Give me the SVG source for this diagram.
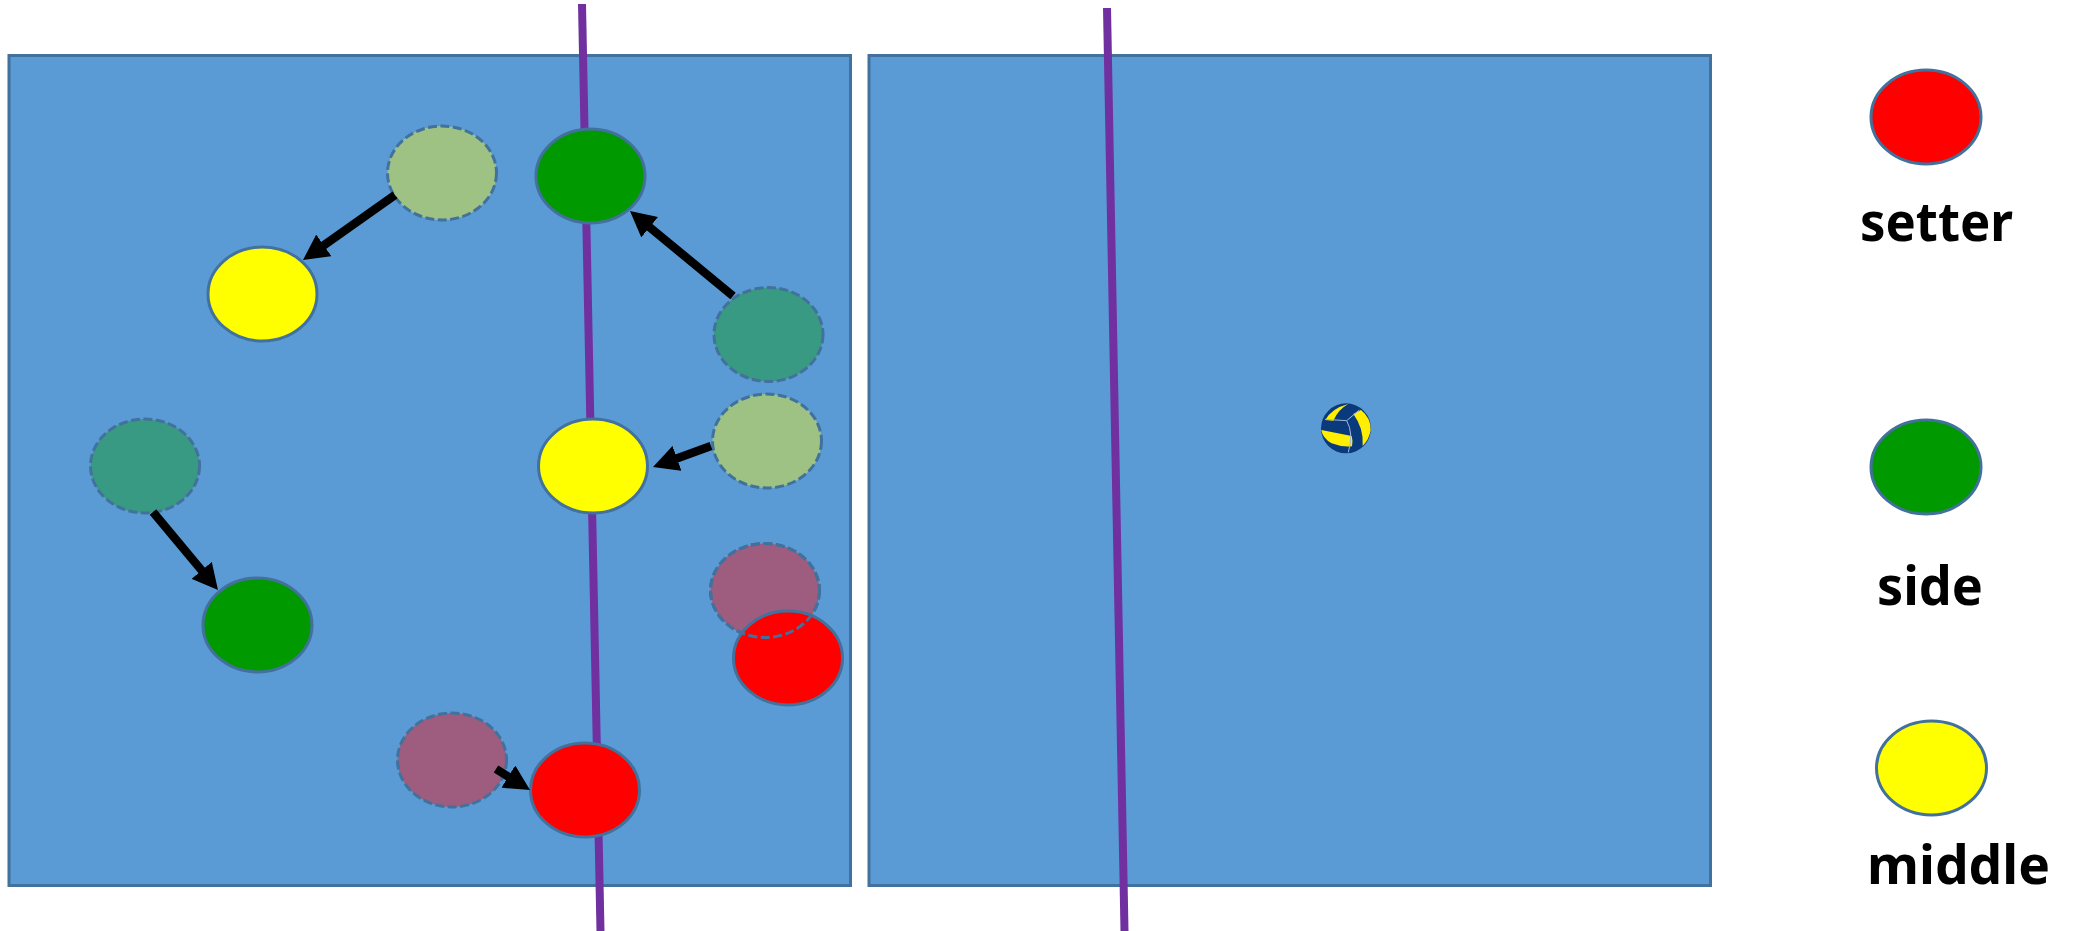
<svg xmlns="http://www.w3.org/2000/svg" width="2080" height="931" viewBox="0 0 2080 931">
<style>
.court{fill:#5b9bd5;stroke:#41719c;stroke-width:3}
.net{stroke:#7030a0;stroke-width:8;fill:none}
.p{stroke:#41719c;stroke-width:3}
.g{stroke:#41719c;stroke-width:3;stroke-dasharray:9 3.5}
.red{fill:#ff0000}.green{fill:#009900}.yellow{fill:#ffff00}
.gl{fill:#9dc284}.gt{fill:#399a84}.gm{fill:#9e5d7e}
.arrow{stroke:#000;stroke-width:8.5;fill:none;marker-end:url(#head)}
.label{font-family:"Noto Sans","Open Sans","Liberation Sans",sans-serif;font-weight:700;font-size:54px;fill:#000}
</style>
<defs>
<marker id="head" viewBox="0 0 3 3.1" refX="0.65" refY="1.55" markerWidth="3" markerHeight="3.1" orient="auto" markerUnits="strokeWidth"><path d="M0 0L3 1.55L0 3.1Z" fill="#000"/></marker>
</defs>
<rect width="2080" height="931" fill="#fff"/>
<g id="court-left"><rect class="court" x="9" y="55.5" width="841.5" height="830"/></g>
<g id="court-right"><rect class="court" x="869" y="55.5" width="841.5" height="830"/></g>
<g id="net-left"><line class="net" x1="582" y1="4" x2="600.5" y2="931"/></g>
<g id="net-right"><line class="net" x1="1107" y1="8" x2="1124.5" y2="931"/></g>
<g id="ghost-middle-1"><ellipse class="gl g" cx="442" cy="173" rx="54.5" ry="47"/></g>
<g id="ghost-side-1"><ellipse class="gt g" cx="768.5" cy="334.5" rx="54.5" ry="47"/></g>
<g id="ghost-middle-2"><ellipse class="gl g" cx="767" cy="441" rx="54.5" ry="47"/></g>
<g id="ghost-side-2"><ellipse class="gt g" cx="145" cy="466" rx="54.5" ry="47"/></g>
<g id="ghost-setter-1"><ellipse class="gm g" cx="765" cy="590.5" rx="54.5" ry="47"/></g>
<g id="ghost-setter-2"><ellipse class="gm g" cx="452" cy="760" rx="54.5" ry="47"/></g>
<g id="side-1"><ellipse class="green p" cx="590.5" cy="176" rx="54.5" ry="47"/></g>
<g id="middle-1"><ellipse class="yellow p" cx="262.5" cy="294" rx="54.5" ry="47"/></g>
<g id="middle-2"><ellipse class="yellow p" cx="593" cy="466" rx="54.5" ry="47"/></g>
<g id="side-2"><ellipse class="green p" cx="257.5" cy="625" rx="54.5" ry="47"/></g>
<g id="setter-1"><ellipse class="red p" cx="788" cy="658" rx="54.5" ry="47"/><ellipse cx="765" cy="590.5" rx="54.5" ry="47" fill="none" class="g"/></g>
<g id="setter-2"><ellipse class="red p" cx="585" cy="790" rx="54.5" ry="47"/></g>
<g id="connectors">
<line class="arrow" x1="395" y1="195" x2="319.3" y2="248.5"/>
<line class="arrow" x1="733" y1="296" x2="645.4" y2="223.7"/>
<line class="arrow" x1="711" y1="446" x2="671.8" y2="460.2"/>
<line class="arrow" x1="153" y1="512" x2="205.2" y2="574.6"/>
<line class="arrow" x1="496" y1="769" x2="513" y2="779.5"/>
</g>
<g id="ball" transform="translate(1280 380) scale(.3333)">
<circle cx="198" cy="145" r="75" fill="#0b3a7c"/>
<path d="M136 120Q155 85 205 72Q175 88 160 122Z" fill="#ffee00"/>
<path d="M220 102L243 90Q274 115 272 150Q268 178 248 198Q252 145 220 102Z" fill="#ffee00"/>
<path d="M124 150L215 168Q220 185 216 199Q185 202 155 190Q128 175 124 150Z" fill="#ffee00"/>
<path d="M200 122L135 118M200 122L238 90M200 122Q222 160 205 217" stroke="#9fb8d8" stroke-width="3" fill="none"/>
</g>
<g id="legend-setter"><ellipse class="red p" cx="1926" cy="117" rx="55" ry="47"/><text class="label" x="1860" y="241" textLength="153" lengthAdjust="spacingAndGlyphs">setter</text></g>
<g id="legend-side"><ellipse class="green p" cx="1926" cy="467" rx="55" ry="47"/><text class="label" x="1877" y="605" textLength="106" lengthAdjust="spacingAndGlyphs">side</text></g>
<g id="legend-middle"><ellipse class="yellow p" cx="1931.5" cy="768" rx="55" ry="47"/><text class="label" x="1867" y="884" textLength="183" lengthAdjust="spacingAndGlyphs">middle</text></g>
</svg>
